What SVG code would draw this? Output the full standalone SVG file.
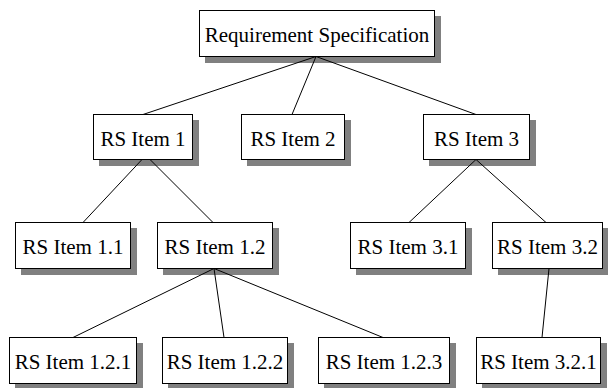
<svg xmlns="http://www.w3.org/2000/svg" width="608" height="388" viewBox="0 0 608 388">
  <style>
    .shadow { fill: #808080; stroke: none; }
    .box { fill: #ffffff; stroke: #000000; stroke-width: 1; }
    .label { font-family: "Liberation Serif", "Times New Roman", serif; font-size: 21px; fill: #000000; text-anchor: middle; }
    .edge { stroke: #000000; stroke-width: 1; fill: none; }
  </style>
  <rect width="608" height="388" fill="#ffffff"/>

  <g id="req-spec">
    <rect class="shadow" x="205" y="16" width="236" height="47"/>
    <rect class="box" x="199.5" y="10.5" width="235" height="46"/>
    <text class="label" x="317" y="42">Requirement Specification</text>
  </g>

  <g id="rs-item-1">
    <rect class="shadow" x="99" y="120" width="100" height="46"/>
    <rect class="box" x="93.5" y="114.5" width="99" height="45"/>
    <text class="label" x="143" y="146">RS Item 1</text>
  </g>

  <g id="rs-item-2">
    <rect class="shadow" x="247" y="120" width="104" height="46"/>
    <rect class="box" x="241.5" y="114.5" width="103" height="45"/>
    <text class="label" x="293" y="146">RS Item 2</text>
  </g>

  <g id="rs-item-3">
    <rect class="shadow" x="429" y="120" width="107" height="46"/>
    <rect class="box" x="423.5" y="114.5" width="106" height="45"/>
    <text class="label" x="476.5" y="146">RS Item 3</text>
  </g>

  <g id="rs-item-1-1">
    <rect class="shadow" x="21" y="228" width="116" height="47"/>
    <rect class="box" x="15.5" y="222.5" width="115" height="46"/>
    <text class="label" x="73" y="254">RS Item 1.1</text>
  </g>

  <g id="rs-item-1-2">
    <rect class="shadow" x="163" y="228" width="116" height="47"/>
    <rect class="box" x="157.5" y="222.5" width="115" height="46"/>
    <text class="label" x="215" y="254">RS Item 1.2</text>
  </g>

  <g id="rs-item-3-1">
    <rect class="shadow" x="356" y="228" width="116" height="47"/>
    <rect class="box" x="350.5" y="222.5" width="115" height="46"/>
    <text class="label" x="408" y="254">RS Item 3.1</text>
  </g>

  <g id="rs-item-3-2">
    <rect class="shadow" x="498" y="228" width="111" height="47"/>
    <rect class="box" x="492.5" y="222.5" width="110" height="46"/>
    <text class="label" x="547.5" y="254">RS Item 3.2</text>
  </g>

  <g id="rs-item-1-2-1">
    <rect class="shadow" x="15" y="343" width="128" height="47"/>
    <rect class="box" x="9.5" y="337.5" width="127" height="46"/>
    <text class="label" x="73" y="369">RS Item 1.2.1</text>
  </g>

  <g id="rs-item-1-2-2">
    <rect class="shadow" x="168" y="343" width="126" height="47"/>
    <rect class="box" x="162.5" y="337.5" width="125" height="46"/>
    <text class="label" x="225" y="369">RS Item 1.2.2</text>
  </g>

  <g id="rs-item-1-2-3">
    <rect class="shadow" x="324" y="343" width="132" height="47"/>
    <rect class="box" x="318.5" y="337.5" width="131" height="46"/>
    <text class="label" x="384" y="369">RS Item 1.2.3</text>
  </g>

  <g id="rs-item-3-2-1">
    <rect class="shadow" x="482" y="343" width="125" height="47"/>
    <rect class="box" x="476.5" y="337.5" width="124" height="46"/>
    <text class="label" x="538.5" y="369">RS Item 3.2.1</text>
  </g>

  <g id="connectors">
    <line class="edge" x1="316" y1="56.5" x2="143" y2="114.5"/>
    <line class="edge" x1="316" y1="56.5" x2="292" y2="114.5"/>
    <line class="edge" x1="316" y1="56.5" x2="476" y2="114.5"/>
    <line class="edge" x1="142" y1="159.5" x2="83" y2="222.5"/>
    <line class="edge" x1="150" y1="159.5" x2="213" y2="222.5"/>
    <line class="edge" x1="476" y1="159.5" x2="409" y2="222.5"/>
    <line class="edge" x1="476" y1="159.5" x2="546" y2="222.5"/>
    <line class="edge" x1="214" y1="268.5" x2="73" y2="337.5"/>
    <line class="edge" x1="214" y1="268.5" x2="224" y2="337.5"/>
    <line class="edge" x1="214" y1="268.5" x2="383" y2="337.5"/>
    <line class="edge" x1="549" y1="268.5" x2="542" y2="337.5"/>
  </g>
</svg>
